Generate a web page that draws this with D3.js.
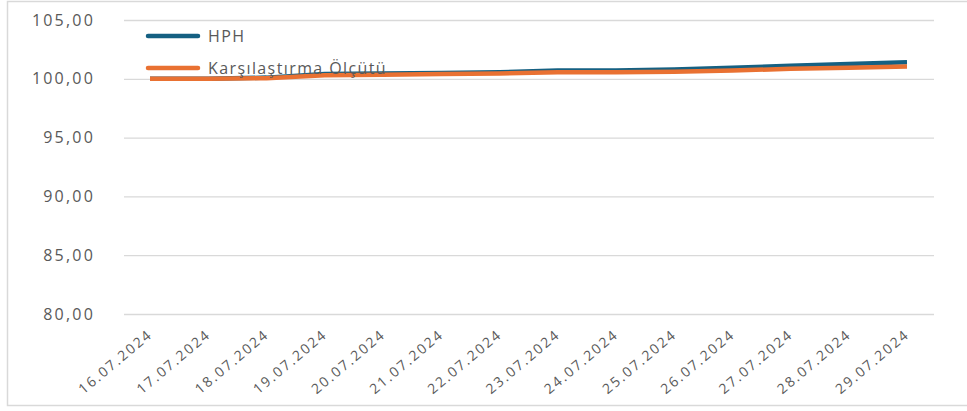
<!DOCTYPE html>
<html><head><meta charset="utf-8">
<script src="https://cdn.jsdelivr.net/npm/d3@7"></script>
<style>body{margin:0;background:#fff}svg{display:block}text{font-family:"Open Sans",sans-serif;fill:#595959}</style>
</head><body><svg id="c" width="967" height="411"></svg>
<script>
const dates = ["16.07.2024","17.07.2024","18.07.2024","19.07.2024","20.07.2024","21.07.2024","22.07.2024","23.07.2024","24.07.2024","25.07.2024","26.07.2024","27.07.2024","28.07.2024","29.07.2024"];
const hph = [100.00,100.00,100.10,100.40,100.45,100.50,100.55,100.70,100.70,100.80,100.95,101.10,101.25,101.40];
const bench = [100.00,100.00,100.05,100.30,100.35,100.40,100.45,100.55,100.55,100.60,100.70,100.85,100.95,101.05];
const yTicks = [80,85,90,95,100,105];
const seriesNames = ["HPH","Karşılaştırma Ölçütü"];
const colors = ["#156082","#E97132"];

const svg = d3.select("#c");
svg.append("rect").attr("x",7.5).attr("y",1.5).attr("width",980).attr("height",404)
  .attr("fill","#fff").attr("stroke","#d9d9d9").attr("stroke-width",1.5);

const x = d3.scalePoint().domain(dates).range([150,907]);
const y = d3.scaleLinear().domain([80,105]).range([314,20]);

const yAxis = svg.append("g").attr("transform","translate(124,0)")
  .call(d3.axisLeft(y).tickValues(yTicks).tickSize(-810).tickPadding(29)
    .tickFormat(d=>d3.format(".2f")(d).replace(".",",")));
yAxis.select(".domain").remove();
yAxis.selectAll("line").attr("stroke","#d9d9d9").attr("stroke-width",1.3);
yAxis.selectAll("text").attr("font-size",16).attr("letter-spacing","2.2px").attr("fill","#595959")
  .style("font-family","'Open Sans',sans-serif");

const xAxis = svg.append("g").attr("transform","translate(0,314)")
  .call(d3.axisBottom(x).tickSize(0).tickPadding(0));
xAxis.select(".domain").remove();
xAxis.selectAll("text").attr("font-size",14).attr("letter-spacing","2px")
  .attr("text-anchor","end").attr("dy",0).attr("y",0)
  .attr("transform","translate(3,22) rotate(-40)").attr("fill","#595959")
  .style("font-family","'Open Sans',sans-serif");

const line = d3.line().x((d,i)=>x(dates[i])).y(d=>y(d));
[hph,bench].forEach((s,k)=>{
  svg.append("path").datum(s).attr("d",line).attr("fill","none")
    .attr("stroke",colors[k]).attr("stroke-width",4.5)
    .attr("stroke-linejoin","round");
});

const legY = [36,68];
seriesNames.forEach((n,i)=>{
  svg.append("line").attr("x1",148).attr("x2",198).attr("y1",legY[i]).attr("y2",legY[i])
    .attr("stroke",colors[i]).attr("stroke-width",4.5).attr("stroke-linecap","round");
  svg.append("text").attr("x",208).attr("y",legY[i]).attr("dy","0.35em")
    .attr("font-size",16).attr("letter-spacing","1.4px").text(n);
});
</script></body></html>
